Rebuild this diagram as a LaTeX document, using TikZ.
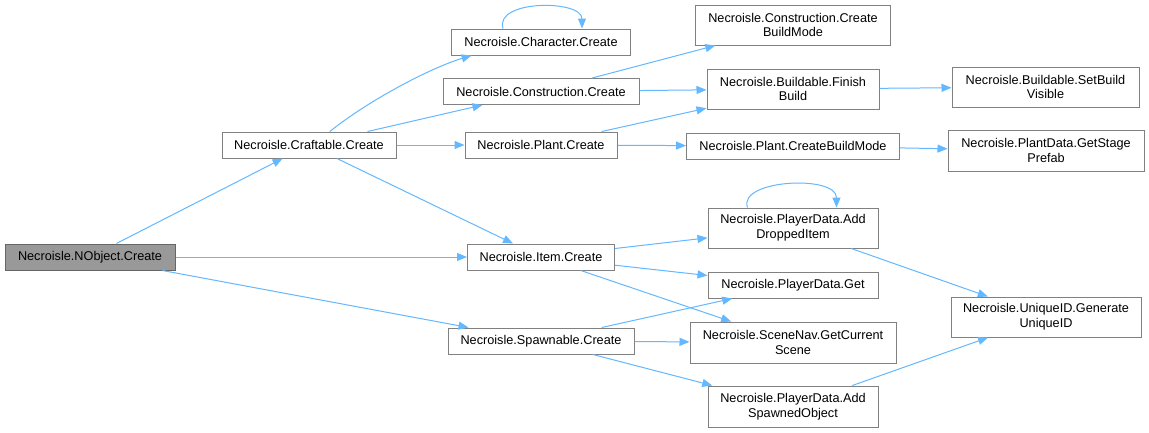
\documentclass[tikz,border=0pt]{standalone}
\usepackage{fontspec}
\setmainfont{Liberation Sans}
\usetikzlibrary{arrows.meta,calc}
\definecolor{edgeblue}{HTML}{63B8FF}
\definecolor{boxgray}{HTML}{808080}
\definecolor{rootfill}{HTML}{999999}
\definecolor{rootdraw}{HTML}{666666}
\begin{document}
\begin{tikzpicture}[x=1pt,y=-1pt,
  box/.style={draw=boxgray,fill=white,line width=1pt,inner sep=0pt,align=center,
    font=\fontsize{12.7}{14.7}\selectfont},
  rootbox/.style={box,draw=rootdraw,fill=rootfill},
  call/.style={draw=edgeblue,line width=1pt,-{Triangle[length=10pt,width=8pt]}}]
\useasboundingbox (0,0) rectangle (1149,432);
\fill[white] (0,0) rectangle (1149,432);
% nodes
\node[rootbox,minimum width=170,minimum height=26] (nobj) at (90,257) {Necroisle.NObject.Create};
\node[box,minimum width=174,minimum height=26] (craft) at (309,145) {Necroisle.Craftable.Create};
\node[box,minimum width=179,minimum height=26] (char) at (541,42) {Necroisle.Character.Create};
\node[box,minimum width=196,minimum height=26] (cons) at (541,91.5) {Necroisle.Construction.Create};
\node[box,minimum width=152,minimum height=26] (plant) at (541,145) {Necroisle.Plant.Create};
\node[box,minimum width=147,minimum height=26] (item) at (541,257) {Necroisle.Item.Create};
\node[box,minimum width=186,minimum height=26] (spawn) at (541,341) {Necroisle.Spawnable.Create};
\node[box,minimum width=195,minimum height=40] (ccbm) at (793,25) {Necroisle.Construction.Create\\BuildMode};
\node[box,minimum width=172,minimum height=40] (finish) at (793,89) {Necroisle.Buildable.Finish\\Build};
\node[box,minimum width=213,minimum height=26] (pcbm) at (793,146) {Necroisle.Plant.CreateBuildMode};
\node[box,minimum width=187,minimum height=40] (setvis) at (1045.5,87) {Necroisle.Buildable.SetBuild\\Visible};
\node[box,minimum width=196,minimum height=41] (stage) at (1046,150.5) {Necroisle.PlantData.GetStage\\Prefab};
\node[box,minimum width=190,minimum height=40] (uid) at (1046,317) {Necroisle.UniqueID.Generate\\UniqueID};
\node[box,minimum width=170,minimum height=40] (adi) at (793,228) {Necroisle.PlayerData.Add\\DroppedItem};
\node[box,minimum width=170,minimum height=26] (get) at (793,285) {Necroisle.PlayerData.Get};
\node[box,minimum width=206,minimum height=41] (scene) at (793,342.5) {Necroisle.SceneNav.GetCurrent\\Scene};
\node[box,minimum width=170,minimum height=41] (aso) at (793,406.5) {Necroisle.PlayerData.Add\\SpawnedObject};
% self-loop coordinates
\coordinate (charA) at ($(char.north west)+(52,0)$);
\coordinate (charB) at ($(char.north west)+(131,0)$);
\coordinate (adiA) at ($(adi.north west)+(40,0)$);
\coordinate (adiB) at ($(adi.north west)+(129,0)$);
% edges
\draw[call] (nobj) -- (craft);
\draw[call] (nobj) -- (item);
\draw[call] (nobj) -- (spawn);
\draw[call] (craft.33) .. controls +(40,-32) and +(-40,12) .. (char.191);
\draw[call] (craft) -- (cons);
\draw[call] (craft) -- (plant);
\draw[call] (craft) -- (item);
\draw[call] (charA) .. controls +(-9,-29) and +(0,-29) .. (charB);
\draw[call] (cons) -- (ccbm);
\draw[call] (cons) -- (finish);
\draw[call] (plant) -- (finish);
\draw[call] (plant) -- (pcbm);
\draw[call] (finish) -- (setvis);
\draw[call] (pcbm) -- (stage);
\draw[call] (item) -- (adi);
\draw[call] (item) -- (get);
\draw[call] (item) -- (scene);
\draw[call] (adiA) .. controls +(-10,-28) and +(0,-33) .. (adiB);
\draw[call] (adi) -- (uid);
\draw[call] (spawn) -- (get);
\draw[call] (spawn) -- (scene);
\draw[call] (spawn) -- (aso);
\draw[call] (aso) -- (uid);
\end{tikzpicture}
\end{document}
